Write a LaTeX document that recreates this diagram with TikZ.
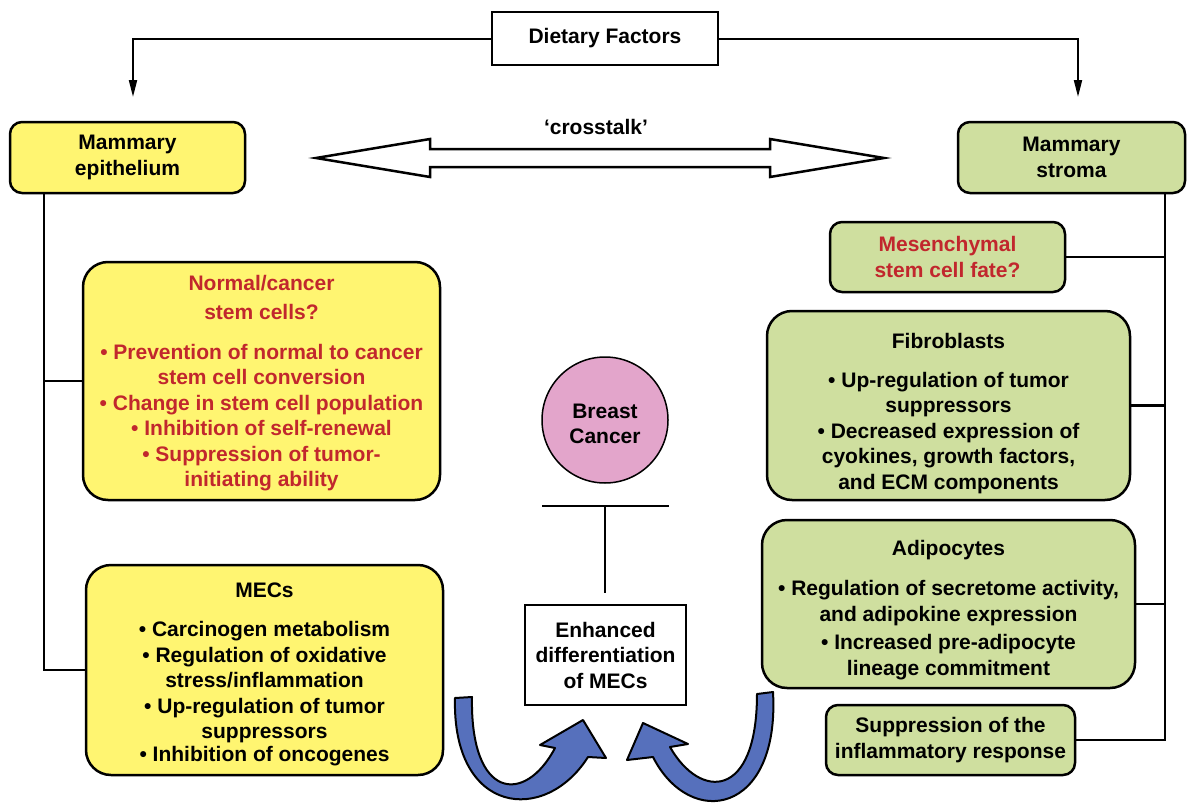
\documentclass[tikz,border=0pt]{standalone}
\usepackage{fontspec}
\setmainfont{Liberation Sans}
\usepackage{tikz}
\usetikzlibrary{arrows.meta, positioning}
\definecolor{epiYellow}{HTML}{FFF571}
\definecolor{stromaGreen}{HTML}{CFDF9F}
\definecolor{cancerPink}{HTML}{E3A5CB}
\definecolor{arrowBlue}{HTML}{5670BC}
\definecolor{stemRed}{HTML}{C1272D}
\tikzset{
    boxText/.style={align=center, inner sep=0pt, font=\fontsize{21}{25.5}\selectfont\bfseries},
    textBox/.style={boxText, draw=black, line width=2.5pt},
    epiBox/.style={textBox, fill=epiYellow},
    stromaBox/.style={textBox, fill=stromaGreen},
    linkLine/.style={line width=2.5pt},
    dietArrow/.style={line width=2pt, -{Triangle[length=17pt, width=8pt]}},
    blueArrow/.style={fill=arrowBlue, draw=black, line width=2pt, line join=round}
}

\begin{document}
\begin{tikzpicture}[x=1pt, y=-1pt]
    \useasboundingbox (0,0) rectangle (1192,803);
    \node[textBox, minimum width=226pt, minimum height=53pt] (diet) at (605,38.5) {Dietary Factors};
    \node[epiBox, minimum width=235pt, minimum height=71pt, rounded corners=12pt] (epi) at (127.5,157.5) {Mammary\\epithelium};
    \node[stromaBox, minimum width=227pt, minimum height=71pt, rounded corners=12pt] (stroma) at (1071.5,157.5) {Mammary\\stroma};
    \node[boxText] (talk) at (596,127) {‘crosstalk’};
    \coordinate (ltip) at (133,97);  \coordinate (rtip) at (1078,97);
    \draw[dietArrow] (diet.west) -| (ltip);
    \draw[dietArrow] (diet.east) -| (rtip);
    \draw[line width=2.5pt, fill=white] (316,158) -- (430,139) -- (430,149) -- (770,149) -- (770,139)
        -- (884,158) -- (770,177) -- (770,167) -- (430,167) -- (430,177) -- cycle;

    \node[epiBox, minimum width=357pt, minimum height=238pt, rounded corners=25pt,
        label={[boxText, text=stemRed, yshift=-2pt]center:{Normal/cancer\\[4pt]stem cells?\\[14pt]• Prevention of normal to cancer\\stem cell conversion\\• Change in stem cell population\\• Inhibition of self-renewal\\• Suppression of tumor-\\initiating ability}}] (stem) at (261.5,381) {};
    \node[epiBox, minimum width=357pt, minimum height=210pt, rounded corners=25pt,
        label={[boxText, yshift=-4pt]center:{MECs\\[14pt]• Carcinogen metabolism\\• Regulation of oxidative\\stress/inflammation\\• Up-regulation of tumor\\suppressors\\[-3pt]• Inhibition of oncogenes}}] (mecs) at (264.5,670) {};
    \coordinate (lx) at (44,0);
    \draw[linkLine] (lx |- epi.south) |- (mecs.west);
    \draw[linkLine] (lx |- stem.west) -- (stem.west);

    \node[stromaBox, text=stemRed, minimum width=235pt, minimum height=70pt, rounded corners=12pt] (mesen) at (947.5,257) {Mesenchymal\\stem cell fate?};
    \node[stromaBox, minimum width=363pt, minimum height=189pt, rounded corners=25pt,
        label={[boxText, yshift=-8pt]center:{Fibroblasts\\[13pt]• Up-regulation of tumor\\suppressors\\• Decreased expression of\\cyokines, growth factors,\\and ECM components}}] (fibro) at (948.5,405.5) {};
    \node[stromaBox, minimum width=373pt, minimum height=168pt, rounded corners=25pt,
        label={[boxText, yshift=-6pt]center:{Adipocytes\\[15pt]• Regulation of secretome activity,\\and adipokine expression\\[3pt]• Increased pre-adipocyte\\lineage commitment}}] (adipo) at (948.5,604) {};
    \node[stromaBox, minimum width=249pt, minimum height=70pt, rounded corners=12pt] (inflam) at (950.5,740) {Suppression of the\\inflammatory response};
    \coordinate (rx) at (1165,0);
    \draw[linkLine] (rx |- stroma.south) |- (inflam.east);
    \draw[linkLine] (rx |- mesen.east) -- (mesen.east);
    \draw[linkLine] (rx |- fibro.east) -- (fibro.east);
    \draw[linkLine] (rx |- adipo.east) -- (adipo.east);

    \node[textBox, circle, fill=cancerPink, line width=1.5pt, minimum size=126pt,
        label={[boxText, yshift=-4pt]center:{Breast\\Cancer}}] (cancer) at (605,420) {};
    \node[textBox, fill=white, minimum width=161pt, minimum height=100pt] (enh) at (605.5,655) {Enhanced\\differentiation\\of MECs};
    \coordinate (tbar) at (605,506);
    \draw[linkLine] ([xshift=-63pt]tbar) -- ([xshift=64pt]tbar);
    \draw[linkLine] (tbar) -- ([yshift=11pt]enh.north -| tbar);

    \draw[blueArrow] (455,698) .. controls (452,815) and (545,825) .. (588,757) -- (606,758) -- (583,720)
        -- (540,745) -- (555,748) .. controls (525,805) and (470,800) .. (472,697) -- cycle;
    \draw[blueArrow] (773,692) .. controls (780,815) and (690,830) .. (653,757) -- (627,760) -- (643,723)
        -- (688,744) -- (670,747) .. controls (700,800) and (757,800) .. (757,694) -- cycle;
\end{tikzpicture}
\end{document}
